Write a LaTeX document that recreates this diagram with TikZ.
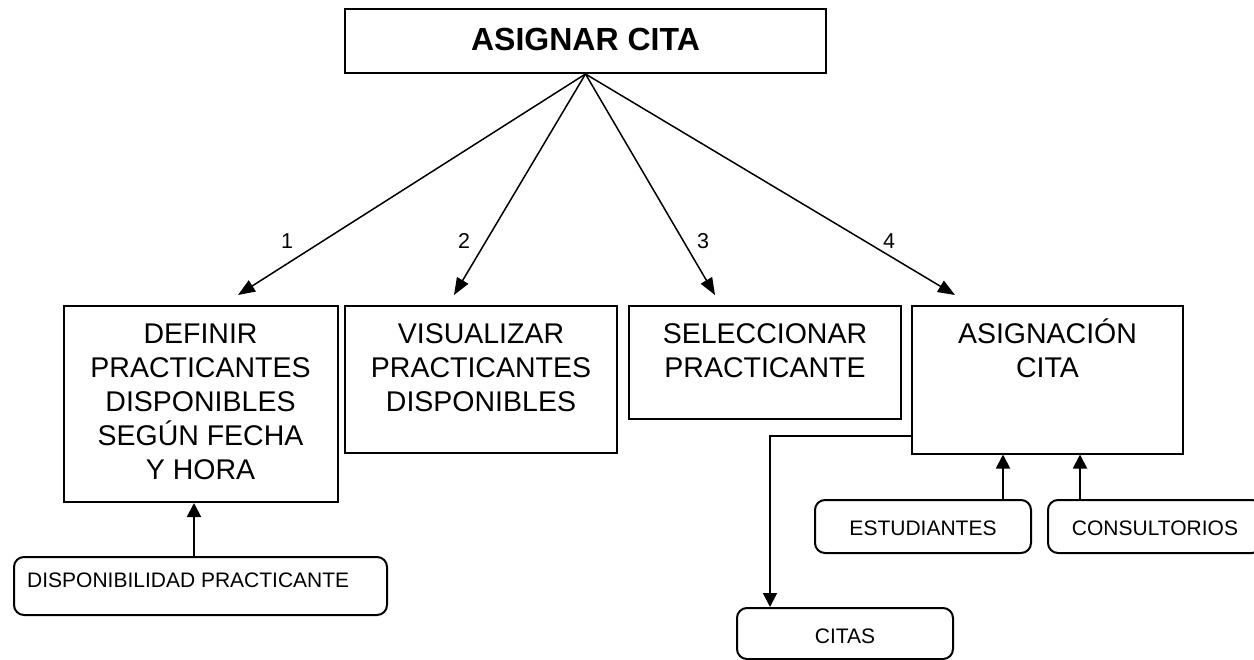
\documentclass[tikz,border=0pt]{standalone}
\usepackage{fontspec}
\setmainfont{Liberation Sans}
\usetikzlibrary{arrows.meta}
\begin{document}
\begin{tikzpicture}[x=1pt,y=-1pt,
  box/.style={draw, line width=2pt, inner sep=0pt},
  rbox/.style={draw, line width=2pt, inner sep=0pt, rounded corners=10pt},
  bigtext/.style={anchor=north, inner sep=0pt, align=center, font=\fontsize{28.5}{34}\selectfont},
  smalltext/.style={inner sep=0pt, anchor=base, font=\fontsize{21}{25}\selectfont},
  toparrow/.style={line width=1.5pt, -{Triangle[length=17pt,width=13pt]}},
  lowarrow/.style={line width=1.8pt, -{Triangle[length=14pt,width=14pt]}},
  numlabel/.style={inner sep=0pt, font=\fontsize{21.5}{25}\selectfont}]
\useasboundingbox (0,0) rectangle (1254,660);
\fill[white] (0,0) rectangle (1254,660);
\clip (0,0) rectangle (1254,660);

% top box
\node[box, minimum width=481pt, minimum height=64pt] (top) at (585.5,41) {};
\node[inner sep=0pt, font=\fontsize{32}{36}\selectfont\bfseries] (toptext) at (585.5,39.5) {ASIGNAR CITA};

% process boxes
\node[box, minimum width=274pt, minimum height=196pt] (b1) at (200.5,404) {};
\node[box, minimum width=272pt, minimum height=147pt] (b2) at (481,379.5) {};
\node[box, minimum width=272pt, minimum height=113pt] (b3) at (765,362.5) {};
\node[box, minimum width=271pt, minimum height=147pt] (b4) at (1047.5,380) {};

\node[bigtext] (t1) at (200.5,316) {\rule{0pt}{27pt}DEFINIR\\PRACTICANTES\\DISPONIBLES\\SEGÚN FECHA\\Y HORA};
\node[bigtext] (t2) at (481,316) {\rule{0pt}{27pt}VISUALIZAR\\PRACTICANTES\\DISPONIBLES};
\node[bigtext] (t3) at (765,316) {\rule{0pt}{27pt}SELECCIONAR\\PRACTICANTE};
\node[bigtext] (t4) at (1047.5,316) {\rule{0pt}{27pt}ASIGNACIÓN\\CITA};

% data stores
\node[rbox, minimum width=373pt, minimum height=58pt] (disp) at (200.5,586) {};
\node[smalltext, anchor=base west] (disptext) at (27,587) {DISPONIBILIDAD PRACTICANTE};
\node[rbox, minimum width=216pt, minimum height=53pt] (est) at (923,526.5) {};
\node[smalltext] (esttext) at (923,535) {ESTUDIANTES};
\node[rbox, minimum width=214pt, minimum height=53pt] (cons) at (1155,526.5) {};
\node[smalltext] (constext) at (1155,535) {CONSULTORIOS};
\node[rbox, minimum width=216pt, minimum height=51pt] (citas) at (845,633.5) {};
\node[smalltext] (citastext) at (845,643) {CITAS};

% arrow end points
\coordinate (e1) at (238,295);
\coordinate (e2) at (454,295);
\coordinate (e3) at (715,295);
\coordinate (e4) at (955,295);

\draw[toparrow] (top.south) -- (e1);
\draw[toparrow] (top.south) -- (e2);
\draw[toparrow] (top.south) -- (e3);
\draw[toparrow] (top.south) -- (e4);

\node[numlabel] (n1) at (287,241) {1};
\node[numlabel] (n2) at (464,241) {2};
\node[numlabel] (n3) at (703,241) {3};
\node[numlabel] (n4) at (889,241) {4};

% lower connectors
\draw[lowarrow] ([xshift=-6.5pt]disp.north) -- ([xshift=-6.5pt]disp.north |- b1.south);
\draw[lowarrow] ([xshift=80pt]est.north) -- ([xshift=80pt]est.north |- b4.south);
\draw[lowarrow] ([xshift=-75pt]cons.north) -- ([xshift=-75pt]cons.north |- b4.south);
\draw[lowarrow] ([xshift=1pt,yshift=-56pt]b4.west) -| ([xshift=-75pt]citas.north);
\end{tikzpicture}
\end{document}
